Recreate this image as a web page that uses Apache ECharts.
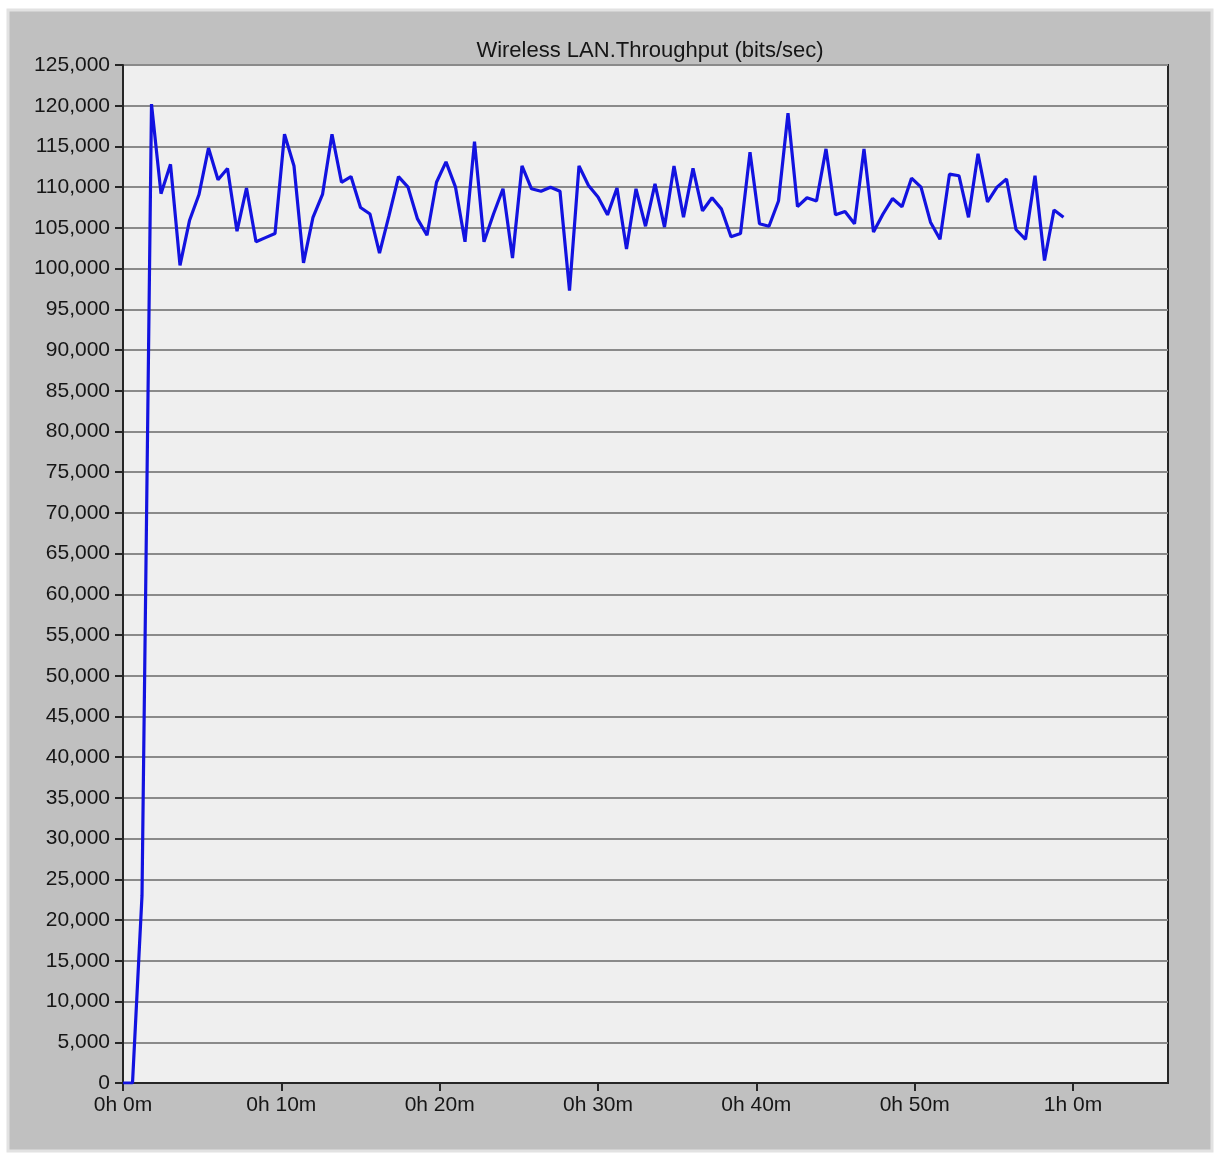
<!DOCTYPE html>
<html>
<head>
<meta charset="utf-8">
<title>Wireless LAN.Throughput (bits/sec)</title>
<script src="https://cdn.jsdelivr.net/npm/echarts@6/dist/echarts.min.js"></script>
<style>
  html, body { margin: 0; padding: 0; background: #ffffff; }
  #chart { width: 1220px; height: 1153px; }
</style>
</head>
<body>
<div id="chart"></div>
<script>
// Chart title
const chartTitle = 'Wireless LAN.Throughput (bits/sec)';

// Statistic is collected in buckets of 36 s (0.6 min)
const sampleMinutes = 0.6;

// Throughput per bucket, bits/sec
const throughput = [
  0, 0, 23000, 120200, 109200, 112800, 100400, 105900, 109100, 114800,
  110900, 112300, 104600, 109900, 103300, 103800, 104300, 116500, 112600, 100700,
  106300, 109100, 116500, 110600, 111300, 107500, 106700, 101900, 106500, 111300,
  110000, 106100, 104100, 110600, 113100, 110000, 103300, 115600, 103300, 106700,
  109800, 101300, 112600, 109800, 109500, 110000, 109500, 97300, 112600, 110200,
  108800, 106600, 109900, 102400, 109800, 105200, 110400, 105100, 112600, 106300,
  112300, 107100, 108700, 107300, 103900, 104300, 114300, 105500, 105200, 108300,
  119100, 107600, 108700, 108300, 114700, 106600, 107000, 105500, 114700, 104500,
  106700, 108600, 107600, 111100, 110000, 105700, 103600, 111600, 111400, 106300,
  114100, 108200, 110000, 111000, 104800, 103600, 111400, 101000, 107200, 106300
];

// Axis ticks (minutes on x, bits/sec on y)
const xTickMinutes = [0, 10, 20, 30, 40, 50, 60];
const xAxisMax = 66;
const yAxisMax = 125000;
const yStep = 5000;

const points = throughput.map((v, i) => [i * sampleMinutes, v]);

function fmtMinutes(m) {
  return Math.floor(m / 60) + 'h ' + (m % 60) + 'm';
}

const font = '"Liberation Sans", Arial, sans-serif';
const textColor = '#161616';

const chart = echarts.init(document.getElementById('chart'), null, { renderer: 'canvas' });

chart.setOption({
  backgroundColor: '#ffffff',
  animation: false,
  graphic: [
    {
      type: 'rect',
      z: -10,
      shape: { x: 8, y: 10, width: 1204, height: 1141 },
      style: { fill: '#c0c0c0', stroke: '#e2e2e2', lineWidth: 3 }
    }
  ],
  title: {
    text: chartTitle,
    left: 645,
    textAlign: 'center',
    top: 35,
    textStyle: { fontFamily: font, fontSize: 22, fontWeight: 'normal', color: textColor }
  },
  grid: {
    left: 123, right: 52, top: 65, bottom: 70,
    show: true,
    backgroundColor: '#efefef',
    borderColor: '#262626',
    borderWidth: 2
  },
  xAxis: {
    type: 'value',
    min: 0,
    max: xAxisMax,
    interval: 10,
    axisLine: { show: true, lineStyle: { color: '#262626', width: 2 } },
    axisTick: {
      show: true, length: 8, inside: false,
      customValues: xTickMinutes,
      lineStyle: { color: '#262626', width: 2 }
    },
    axisLabel: {
      customValues: xTickMinutes,
      formatter: v => fmtMinutes(v),
      margin: 12,
      fontFamily: font, fontSize: 21, color: textColor
    },
    splitLine: { show: false }
  },
  yAxis: {
    type: 'value',
    min: 0,
    max: yAxisMax,
    interval: yStep,
    axisLine: { show: true, lineStyle: { color: '#262626', width: 2 } },
    axisTick: { show: true, length: 8, inside: false, lineStyle: { color: '#262626', width: 2 } },
    axisLabel: {
      formatter: v => v.toLocaleString('en-US'),
      margin: 13,
      fontFamily: font, fontSize: 21, color: textColor
    },
    splitLine: { show: true, lineStyle: { color: '#8a8a8a', width: 2 } }
  },
  series: [
    {
      type: 'line',
      data: points,
      showSymbol: false,
      smooth: false,
      lineStyle: { color: '#1212e0', width: 3.2 },
      z: 5
    }
  ]
});
</script>
</body>
</html>
